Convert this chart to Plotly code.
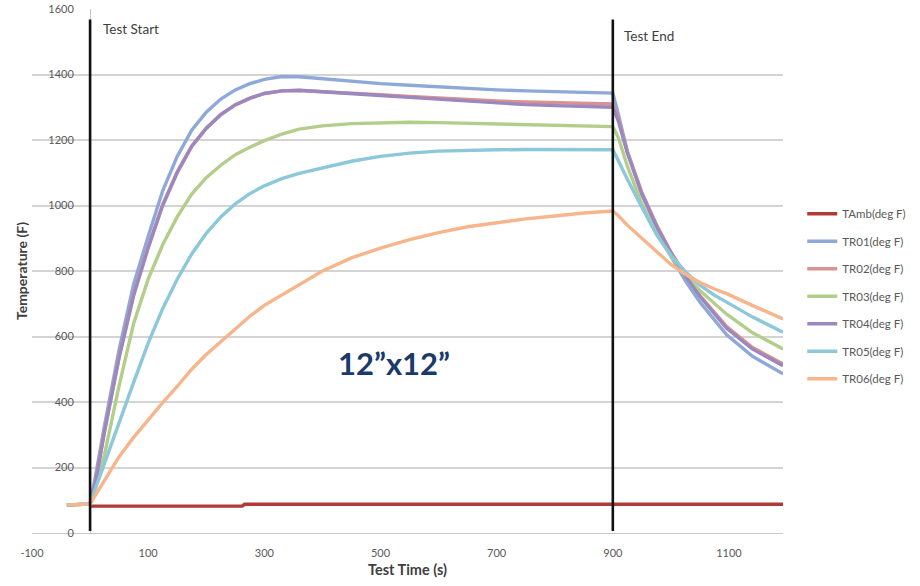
import plotly.graph_objects as go

# ---------------- data ----------------
t_grid = [-40, 0, 10, 25, 50, 75, 100, 125, 150, 175, 200, 225, 250, 275, 300,
          330, 360, 400, 450, 500, 550, 600, 650, 700, 750, 800, 850, 900,
          910, 925, 950, 975, 1000, 1025, 1050, 1075, 1096, 1140, 1193]

tr01 = [86, 88, 180, 330, 560, 760, 905, 1045, 1150, 1230, 1285, 1325, 1353, 1372, 1385,
        1394, 1393, 1387, 1378, 1372, 1367, 1362, 1357, 1353, 1350, 1347, 1345, 1343,
        1275, 1165, 1035, 935, 845, 770, 705, 650, 605, 540, 486]
tr02 = [86, 88, 165, 315, 540, 730, 875, 1003, 1103, 1182, 1237, 1278, 1308, 1328, 1342,
        1350, 1351, 1348, 1343, 1338, 1333, 1328, 1323, 1319, 1316, 1314, 1312, 1310,
        1262, 1165, 1040, 942, 858, 788, 725, 672, 630, 567, 516]
tr03 = [86, 88, 145, 240, 450, 640, 775, 880, 965, 1035, 1085, 1123, 1155, 1178, 1198,
        1218, 1233, 1243, 1250, 1253, 1254, 1253, 1251, 1249, 1247, 1245, 1243, 1241,
        1205, 1120, 1005, 915, 845, 788, 740, 700, 668, 612, 562]
tr04 = [86, 88, 160, 310, 535, 725, 870, 1000, 1100, 1180, 1235, 1277, 1307, 1327, 1342,
        1350, 1352, 1348, 1342, 1336, 1330, 1324, 1318, 1312, 1308, 1305, 1302, 1300,
        1255, 1160, 1035, 938, 855, 785, 722, 668, 625, 562, 511]
tr05 = [86, 88, 140, 215, 340, 460, 580, 685, 775, 852, 915, 965, 1005, 1036, 1060,
        1082, 1098, 1115, 1135, 1150, 1160, 1166, 1169, 1170, 1171, 1171, 1170, 1170,
        1135, 1080, 995, 912, 848, 798, 757, 726, 705, 660, 613]
tr06 = [86, 88, 118, 160, 233, 292, 347, 398, 448, 500, 545, 585, 625, 662, 695,
        727, 757, 800, 840, 870, 896, 917, 935, 948, 959, 968, 977, 983,
        968, 940, 900, 858, 820, 790, 765, 745, 731, 695, 654]

t_amb = [0, 262, 266, 1193]
tamb = [82, 82, 88, 88]

series_names = ["TAmb(deg F)", "TR01(deg F)", "TR02(deg F)", "TR03(deg F)",
                "TR04(deg F)", "TR05(deg F)", "TR06(deg F)"]
series_colors = ["#B03A38", "#8EA8D8", "#D9928F", "#B3CE8A",
                 "#9A88BE", "#8CC8DA", "#F7B58C"]

event_times = [0, 900]
event_labels = ["Test Start", "Test End"]
event_label_x = [19, 916]
event_label_y = [1540, 1519]

x_ticks = [-100, 100, 300, 500, 700, 900, 1100]
y_ticks = [0, 200, 400, 600, 800, 1000, 1200, 1400, 1600]

# ---------------- figure ----------------
FONT = "Lato, 'Open Sans', sans-serif"
fig = go.Figure()

all_x = [t_amb] + [t_grid] * 6
all_y = [tamb, tr01, tr02, tr03, tr04, tr05, tr06]
for name, color, xs, ys in zip(series_names, series_colors, all_x, all_y):
    fig.add_trace(go.Scatter(
        x=xs, y=ys, mode="lines", name=name, legendgroup=name,
        line=dict(color=color, width=3.4),
    ))

for t in event_times:
    fig.add_shape(type="line", xref="x", yref="y", x0=t, x1=t, y0=6, y1=1568,
                  line=dict(color="#111111", width=2.6), layer="above")

for lab, lx, ly in zip(event_labels, event_label_x, event_label_y):
    fig.add_annotation(x=lx, y=ly, xref="x", yref="y", text=lab, showarrow=False,
                       xanchor="left", yanchor="middle",
                       font=dict(family=FONT, size=13.5, color="#404040"))

fig.add_annotation(x=523, y=520, xref="x", yref="y", text="12\u201dx12\u201d",
                   showarrow=False, xanchor="center", yanchor="middle",
                   font=dict(family=FONT, size=31, color="#1B3A6B", weight="bold"))

x0_frac = 32 / 920
x1_frac = 783 / 920
fig.update_layout(
    width=920, height=586,
    margin=dict(l=0, r=0, t=9, b=53, autoexpand=False),
    paper_bgcolor="white", plot_bgcolor="white",
    font=dict(family=FONT, size=11, color="#595959"),
    showlegend=True,
    legend=dict(x=0.872, y=0.637, xanchor="left", yanchor="top",
                font=dict(family=FONT, size=11.5, color="#595959"),
                tracegroupgap=8.5, bgcolor="rgba(0,0,0,0)", traceorder="grouped"),
    xaxis=dict(domain=[x0_frac, x1_frac], range=[-100, 1193],
               tickvals=x_ticks, ticktext=[str(v) for v in x_ticks],
               showgrid=False, zeroline=False,
               showline=True, linecolor="#C8C8C8", linewidth=1.2,
               ticks="outside", ticklen=10, tickcolor="rgba(0,0,0,0)",
               tickfont=dict(family=FONT, size=11, color="#595959"),
               title=dict(text="<b>Test Time (s)</b>", standoff=6,
                          font=dict(family=FONT, size=14.5, color="#404040")),
               automargin=False),
    yaxis=dict(range=[0, 1600], anchor="free", position=90 / 920,
               tickvals=y_ticks, ticktext=[str(v) for v in y_ticks],
               showgrid=True, gridcolor="#D4D4D4", gridwidth=1.5,
               zeroline=False, showline=True, linecolor="#C8C8C8", linewidth=1,
               ticks="outside", ticklen=14, tickcolor="rgba(0,0,0,0)",
               tickfont=dict(family=FONT, size=11, color="#595959"),
               title=dict(text="<b>Temperature (F)</b>", standoff=16,
                          font=dict(family=FONT, size=14, color="#404040")),
               automargin=False),
)

fig.write_html("out.html", config={"displayModeBar": False},
               post_script="document.body.style.margin='0';")
